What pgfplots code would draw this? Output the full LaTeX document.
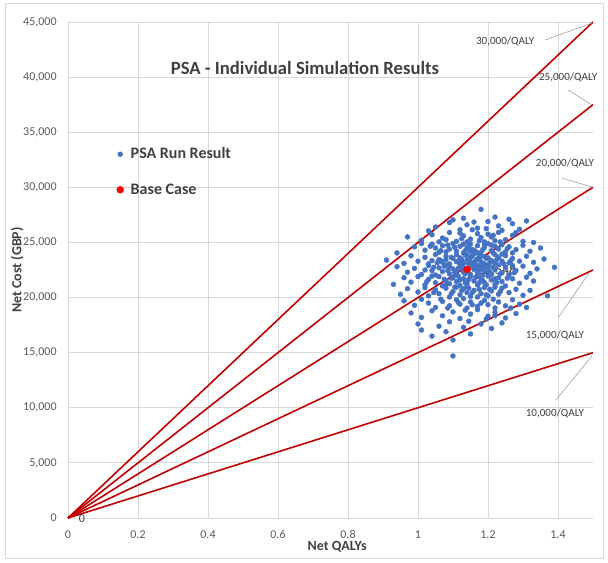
\documentclass[border=0pt]{standalone}
\usepackage{pgfplots}
\pgfplotsset{compat=1.18}
\usepackage{fontspec}
\setmainfont{Carlito}
\definecolor{psablue}{RGB}{68,114,196}
\definecolor{wtpred}{RGB}{192,0,0}
\definecolor{basered}{RGB}{255,0,0}
\definecolor{ticktxt}{RGB}{89,89,89}
\definecolor{gridc}{RGB}{217,217,217}
\definecolor{darktxt}{RGB}{64,64,64}
\begin{document}
\begin{tikzpicture}
\begin{axis}[
  name=main,
  scale only axis,
  width=393.75pt, height=372pt,
  xmin=0, xmax=1.5, ymin=0, ymax=45000,
  xtick={0,0.2,0.4,0.6,0.8,1,1.2,1.4},
  ytick={0,5000,10000,15000,20000,25000,30000,35000,40000,45000},
  scaled y ticks=false,
  /pgf/number format/assume math mode=true,
  xticklabel style={/pgf/number format/.cd, fixed, precision=1},
  yticklabel style={/pgf/number format/.cd, fixed, 1000 sep={,}},
  tick label style={font=\fontsize{9}{10}\selectfont, text=ticktxt},
  major tick length=0pt,
  grid=major,
  major grid style={draw=gridc, line width=0.6pt},
  axis x line=bottom, axis y line=left,
  x axis line style={draw=gridc, -, line width=0.6pt},
  y axis line style={draw=none},
  xticklabel shift=6pt,
  yticklabel shift=5pt,
  xlabel={\textbf{Net QALYs}},
  ylabel={\textbf{Net Cost (GBP)}},
  label style={font=\fontsize{10.5}{12}\selectfont, text=darktxt},
  xlabel style={yshift=5pt, xshift=5pt},
  ylabel style={yshift=-7pt},
  legend style={at={(0.08,0.758)}, anchor=north west, draw=none, fill=none,
    font=\fontsize{12}{14}\selectfont\bfseries, text=darktxt, row sep=13pt},
  legend image code/.code={\path (0cm,0cm) (0.35cm,0cm); \draw[#1] plot coordinates {(0.15cm,0cm)};},
  legend cell align=left,
  clip=false,
]
% PSA scatter
\addplot[psablue, only marks, mark=*, mark size=1.85pt, mark options={draw=psablue, fill=psablue, line width=0.3pt}] coordinates {
(1.18,28000) (1.13,27200) (1.22,27300) (1.10,27050) (1.26,27100) (1.31,26950)
(1.05,26400) (1.09,26800) (1.14,26600) (1.17,26300) (1.20,26900) (1.23,26500) (1.27,26700) (1.12,26150) (1.03,26050) (1.29,26200) (1.16,26850) (1.24,26100)
(0.97,25500) (1.01,25200) (1.04,25700) (1.07,25400) (1.09,25900) (1.11,25100) (1.13,25600) (1.15,25300) (1.17,25800) (1.19,25050) (1.21,25500) (1.23,25900) (1.25,25250) (1.27,25650) (1.30,25100) (1.33,25000) (1.06,25050) (1.12,25850) (1.18,25450) (1.22,25150) (1.28,25900) (1.14,25050) (1.20,25750) (1.08,25250)
(0.94,24050) (0.99,24600) (1.02,24300) (1.04,24850) (1.06,24100) (1.07,24700) (1.09,24400) (1.10,24900) (1.11,24200) (1.12,24650) (1.13,24050) (1.14,24500) (1.15,24850) (1.16,24300) (1.17,24700) (1.18,24100) (1.19,24550) (1.20,24900) (1.21,24250) (1.22,24650) (1.23,24400) (1.24,24800) (1.25,24150) (1.26,24600) (1.28,24350) (1.30,24750) (1.32,24200) (1.35,24500) (1.05,24500) (1.13,24850) (1.17,24050) (1.21,24750) (1.08,24150) (1.15,24200) (1.19,24800) (1.27,24050) (1.01,24900)
(0.91,23400) (0.96,23100) (0.98,23800) (1.00,23300) (1.02,23650) (1.03,23050) (1.05,23900) (1.06,23450) (1.07,23200) (1.08,23750) (1.09,23050) (1.10,23550) (1.11,23900) (1.11,23250) (1.12,23600) (1.13,23100) (1.14,23850) (1.14,23400) (1.15,23650) (1.16,23150) (1.16,23950) (1.17,23500) (1.18,23250) (1.18,23800) (1.19,23050) (1.20,23600) (1.21,23350) (1.22,23900) (1.22,23100) (1.23,23650) (1.24,23300) (1.25,23800) (1.26,23150) (1.27,23550) (1.29,23300) (1.31,23750) (1.33,23200) (1.36,23500) (1.04,23350) (1.12,23050) (1.19,23700) (1.24,23950) (1.08,23450) (1.15,23250)
(0.94,22800) (0.97,22300) (0.99,22650) (1.01,22100) (1.03,22900) (1.04,22450) (1.05,22050) (1.06,22700) (1.07,22350) (1.08,22950) (1.09,22150) (1.10,22600) (1.11,22050) (1.12,22800) (1.13,22300) (1.13,22700) (1.15,22100) (1.16,22550) (1.17,22900) (1.17,22200) (1.18,22650) (1.19,22400) (1.20,22850) (1.21,22100) (1.22,22500) (1.23,22950) (1.24,22250) (1.25,22700) (1.26,22050) (1.28,22450) (1.30,22850) (1.32,22200) (1.34,22600) (1.39,22750) (1.02,22500) (1.09,22800) (1.14,22450) (1.19,22900) (1.11,22350) (1.27,22900)
(0.93,21200) (0.96,21800) (0.98,21400) (1.00,21900) (1.02,21150) (1.03,21650) (1.05,21350) (1.06,21900) (1.07,21050) (1.08,21550) (1.09,21250) (1.10,21800) (1.11,21450) (1.12,21100) (1.13,21700) (1.14,21300) (1.15,21900) (1.16,21500) (1.17,21150) (1.18,21750) (1.19,21350) (1.20,21950) (1.21,21600) (1.22,21200) (1.23,21800) (1.24,21450) (1.25,21050) (1.27,21700) (1.29,21300) (1.31,21850) (1.33,21500) (1.04,21950) (1.12,21600) (1.17,21900) (1.22,21700) (1.14,21050) (1.08,21200)
(0.95,20300) (0.97,20800) (1.00,20500) (1.02,20900) (1.03,20150) (1.05,20700) (1.06,20350) (1.08,20850) (1.09,20050) (1.10,20550) (1.12,20250) (1.13,20800) (1.14,20450) (1.15,20100) (1.16,20650) (1.18,20350) (1.19,20900) (1.20,20150) (1.21,20600) (1.23,20300) (1.24,20850) (1.26,20450) (1.28,20750) (1.30,20200) (1.32,20650) (1.37,20150) (1.11,20950) (1.17,20050) (1.22,20950)
(0.96,19700) (0.99,19300) (1.01,19850) (1.03,19500) (1.05,19100) (1.07,19650) (1.09,19250) (1.11,19800) (1.12,19400) (1.14,19050) (1.15,19600) (1.17,19200) (1.19,19750) (1.20,19350) (1.22,19050) (1.23,19600) (1.25,19250) (1.27,19800) (1.29,19400) (1.31,19100) (1.13,19900) (1.18,19500)
(0.98,18600) (1.01,18200) (1.04,18800) (1.07,18350) (1.10,18700) (1.12,18100) (1.15,18500) (1.17,18900) (1.20,18300) (1.22,18650) (1.25,18150) (1.28,18550) (1.22,18350)
(1.00,17600) (1.01,17050) (1.06,17400) (1.09,17800) (1.13,17300) (1.18,17600) (1.21,17200) (1.24,17700)
(1.04,16500) (1.10,16150) (1.15,16700) (1.08,16900) (1.10,14700)
(1.105,22250) (1.125,22950) (1.145,21650) (1.165,23350) (1.185,22050) (1.205,23150) (1.095,23650) (1.115,21950) (1.135,24250) (1.155,22850) (1.175,21350) (1.195,23550) (1.215,22750) (1.085,22450) (1.125,23450) (1.145,20850) (1.165,24150) (1.185,21550) (1.105,24550) (1.225,23450) (1.135,22150) (1.155,23750) (1.175,22450) (1.195,21150) (1.115,23250) (1.235,22150) (1.095,21750) (1.145,24650) (1.165,21850) (1.185,24350) (1.205,22350) (1.125,20650) (1.155,20450) (1.175,25150) (1.215,24050) (1.075,22850) (1.135,23850) (1.195,22650) (1.165,22650) (1.145,23050) (1.105,20950) (1.225,21350) (1.245,23050) (1.065,23350) (1.115,22650) (1.185,23050) (1.205,20750) (1.135,21350) (1.155,24350) (1.175,23650)
(1.035,24650) (1.055,23150) (1.075,21650) (1.095,20350) (1.115,19550) (1.135,18850) (1.155,19350) (1.175,20750) (1.195,20250) (1.215,19850) (1.235,20550) (1.255,21750) (1.275,22250) (1.265,23350) (1.255,24450) (1.235,25050) (1.215,25650) (1.195,26250) (1.155,26150) (1.125,25350) (1.085,24750) (1.065,24250) (1.045,22750) (1.025,21450) (1.045,20450) (1.065,19850) (1.085,19050) (1.145,17850) (1.195,18050) (1.265,19050)
};
\addlegendentry{PSA Run Result}
% Base case
\addplot[basered, only marks, mark=*, mark size=2.6pt, mark options={draw=basered, fill=basered, line width=0.3pt}] coordinates {(1.141,22548)};
\addlegendentry{Base Case}
% Willingness-to-pay lines
\addplot[wtpred, line width=1.2pt, forget plot] coordinates {(0,0) (1.5,45000)};
\addplot[wtpred, line width=1.2pt, forget plot] coordinates {(0,0) (1.5,37500)};
\addplot[wtpred, line width=1.2pt, forget plot] coordinates {(0,0) (1.5,30000)};
\addplot[wtpred, line width=1.2pt, forget plot] coordinates {(0,0) (1.5,22500)};
\addplot[wtpred, line width=1.2pt, forget plot] coordinates {(0,0) (1.5,15000)};
% leader lines
\addplot[black!40, line width=0.4pt, forget plot] coordinates {(1.363,43370) (1.497,44900)};
\addplot[black!40, line width=0.4pt, forget plot] coordinates {(1.429,38830) (1.497,37470)};
\addplot[black!40, line width=0.4pt, forget plot] coordinates {(1.41,30850) (1.497,30030)};
\addplot[black!40, line width=0.4pt, forget plot] coordinates {(1.40,18150) (1.491,22320)};
\addplot[black!40, line width=0.4pt, forget plot] coordinates {(1.394,10710) (1.497,14700)};
% labels
\node[font=\fontsize{8.3}{9}\selectfont, text=darktxt] at (axis cs:1.249,43280) {30,000/QALY};
\node[font=\fontsize{8.3}{9}\selectfont, text=darktxt] at (axis cs:1.429,40010) {25,000/QALY};
\node[font=\fontsize{8.3}{9}\selectfont, text=darktxt] at (axis cs:1.42,32210) {20,000/QALY};
\node[font=\fontsize{8.3}{9}\selectfont, text=darktxt] at (axis cs:1.391,16600) {15,000/QALY};
\node[font=\fontsize{8.3}{9}\selectfont, text=darktxt] at (axis cs:1.391,9530) {10,000/QALY};
\node[font=\fontsize{10.5}{11}\selectfont, text=black!80, anchor=west, inner sep=1pt] at (axis cs:1.165,22400) {22,548};
\node[font=\fontsize{9}{10}\selectfont, text=darktxt] at (axis cs:0.04,-100) {0};
\node[font=\fontsize{14}{16}\selectfont\bfseries, text=darktxt] at (axis cs:0.677,40800) {PSA - Individual Simulation Results};
\end{axis}
\draw[gridc, line width=0.6pt] ([xshift=-47.25pt,yshift=-30pt]main.south west) rectangle ([xshift=7.5pt,yshift=14.25pt]main.north east);
\path ([xshift=-51pt,yshift=-33.75pt]main.south west) rectangle ([xshift=11.25pt,yshift=16.5pt]main.north east);
\end{tikzpicture}
\end{document}
